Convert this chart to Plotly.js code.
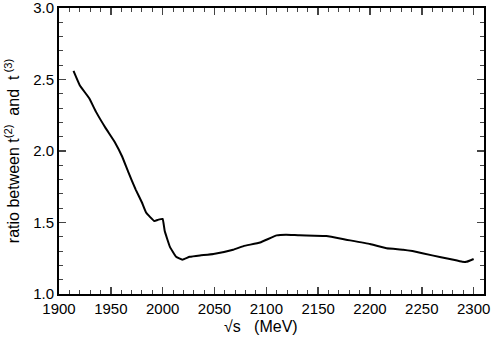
<!DOCTYPE html>
<html>
<head>
<meta charset="utf-8">
<script src="https://cdn.plot.ly/plotly-3.0.1.min.js"></script>
<style>html,body{margin:0;padding:0;background:#fff;}</style>
</head>
<body>
<div id="plot" style="width:498px;height:352px;"></div>
<script>
var energy = [1914, 1920, 1929, 1936, 1945, 1954, 1961, 1967, 1974, 1980, 1984, 1992, 1996, 2000,
  2002, 2007, 2013, 2019, 2026, 2036, 2049, 2068, 2078, 2094, 2110, 2119, 2132, 2158, 2177,
  2200, 2216, 2232, 2241, 2260, 2277, 2289, 2293, 2300];
var ratio = [2.56, 2.46, 2.37, 2.27, 2.16, 2.06, 1.96, 1.85, 1.73, 1.64, 1.57, 1.51, 1.52, 1.525,
  1.44, 1.33, 1.26, 1.24, 1.26, 1.27, 1.28, 1.31, 1.335, 1.36, 1.41, 1.415, 1.41, 1.405, 1.38,
  1.35, 1.32, 1.31, 1.30, 1.27, 1.245, 1.225, 1.225, 1.245];

var curve = {
  x: energy,
  y: ratio,
  type: 'scatter',
  mode: 'lines',
  line: {color: '#000', width: 2, shape: 'spline', smoothing: 0.3},
  showlegend: false
};

var tickFont = {family: 'Liberation Sans, Arial, sans-serif', size: 15, color: '#000'};
var titleFont = {family: 'Liberation Sans, Arial, sans-serif', size: 16, color: '#000'};

var layout = {
  width: 498,
  height: 352,
  margin: {l: 59, r: 14, t: 8, b: 58},
  paper_bgcolor: '#fff',
  plot_bgcolor: '#fff',
  font: tickFont,
  xaxis: {
    range: [1900, 2310],
    tick0: 1900,
    dtick: 50,
    ticks: 'inside',
    ticklen: 7,
    tickwidth: 1.5,
    tickfont: tickFont,
    ticklabeloverflow: 'allow',
    minor: {dtick: 10, ticks: 'inside', ticklen: 4, tickwidth: 1},
    showline: true,
    linewidth: 2,
    linecolor: '#000',
    mirror: 'ticks',
    showgrid: false,
    zeroline: false
  },
  yaxis: {
    range: [1.0, 3.0],
    tick0: 1,
    dtick: 0.5,
    tickformat: '.1f',
    ticks: 'inside',
    ticklen: 7,
    tickwidth: 1.5,
    tickfont: tickFont,
    ticklabeloverflow: 'allow',
    minor: {dtick: 0.1, ticks: 'inside', ticklen: 4, tickwidth: 1},
    showline: true,
    linewidth: 2,
    linecolor: '#000',
    mirror: 'ticks',
    showgrid: false,
    zeroline: false,
    title: {text: 'ratio between t<sup>(2)</sup>  and  t<sup> (3)</sup>', font: titleFont, standoff: 10}
  },
  annotations: [{
    text: '√s   (MeV)',
    xref: 'paper', yref: 'paper',
    x: (261 - 59) / 425, y: -0.115,
    xanchor: 'center', yanchor: 'middle',
    showarrow: false,
    font: titleFont
  }]
};

Plotly.newPlot('plot', [curve], layout, {displayModeBar: false, staticPlot: true});
</script>
</body>
</html>
